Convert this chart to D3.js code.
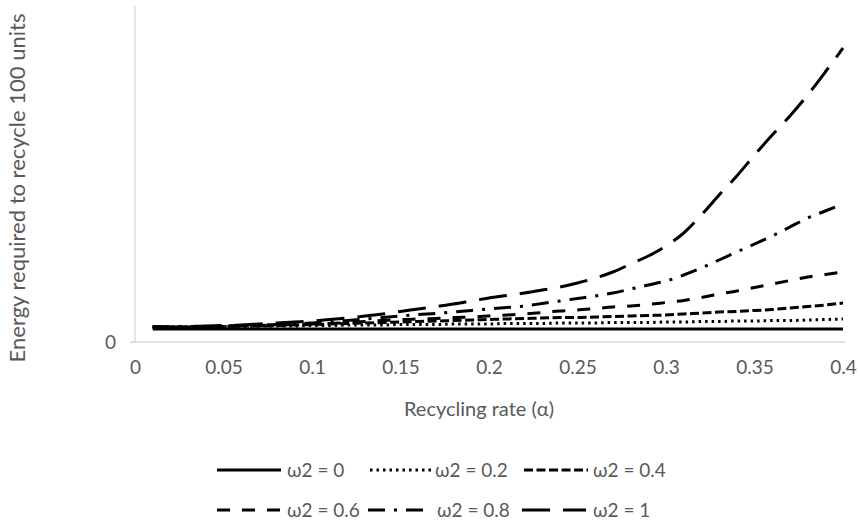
<!DOCTYPE html>
<html><head><meta charset="utf-8">
<script src="https://cdn.jsdelivr.net/npm/d3@7"></script>
<style>body{margin:0;background:#fff}svg{display:block}text{font-family:Lato,"Open Sans",sans-serif;fill:#595959}</style>
</head><body><svg id="c" width="860" height="529"></svg>
<script>
const alpha = [0.01,0.02,0.03,0.04,0.05,0.06,0.07,0.08,0.09,0.10,0.11,0.12,0.13,0.14,0.15,0.16,0.17,0.18,0.19,0.20,
  0.21,0.22,0.23,0.24,0.25,0.26,0.27,0.28,0.29,0.30,0.31,0.32,0.33,0.34,0.35,0.36,0.37,0.38,0.39,0.40];
const w0   = [13,13,13,13,13,13,13,13,13,13,13,13,13,13,13,13,13,13,13,13,13,13,13,13,13,13,13,13,13,13,13,13,13,13,13,13,13,13,13,13];
const w02  = [15,15,15,15.5,15.5,15.5,16,16,16,16.5,16.5,17,17,17,17.5,17.5,17.5,18,18,18,
  18.5,18.5,18.5,19,19,19,19.5,19.5,19.5,20,20,20.5,20.5,21,21,21.5,21.5,22,22.5,23];
const w04  = [15,15,15,15.5,15.5,16,16,16.5,17,17.5,18,18.5,19,19.5,20,20.5,21,21.5,22,22.5,
  23,23.5,24,24.5,24.5,25,25.5,26,26.5,27,28,29,30,30.5,31.5,32.5,34,35.5,37,39];
const w06  = [15,15,15,15.5,15.5,16,16.5,17,17.5,18,18.5,19.5,20.5,21.5,22.5,23,23.5,24.5,25,26,
  27,28,29.5,31,32,33.5,35,36,37.5,39.5,41.5,44.5,48,51,54.5,58,61.5,65,67.5,70];
const w08  = [15,15,15.5,15.5,16,16.5,17,17.5,18.5,19,20,21.5,23,24.5,26,27.5,28.5,30,31.5,33,
  34.5,36,38.5,41,43.5,46,49,53,57,61,67,74,82,90,98,106,115,124,131,138];
const w1   = [15,15,15.5,16,16.5,17,18,19,20,21,22.5,24,26,28,30.5,33,35.5,38,41,44,
  46.5,49,52,55,59,64,70,78,86,96,109,127,147,166,187,207,226,247,270,294];
const seriesNames = ["ω2 = 0","ω2 = 0.2","ω2 = 0.4","ω2 = 0.6","ω2 = 0.8","ω2 = 1"];
const seriesValues = [w0,w02,w04,w06,w08,w1];
const xTicks = [0,0.05,0.1,0.15,0.2,0.25,0.3,0.35,0.4];
const yTicks = [0];
const yMax = 337;

const dashes = [null,"2.5,4","9,3.5","13,12","17,9,3,9","28,13"];
const widths = [3.2,3,3,3,3,3];

const svg = d3.select("#c");
const x = d3.scaleLinear().domain([0,0.4]).range([135,843]);
const y = d3.scaleLinear().domain([0,yMax]).range([342,5]);

// axes
const xa = svg.append("g").attr("transform","translate(0,342)")
  .call(d3.axisBottom(x).tickValues(xTicks).tickSize(0).tickPadding(19).tickFormat(d=>d3.format("")(d)));
xa.select(".domain").attr("stroke","#d9d9d9").attr("stroke-width",1.3).attr("d","M130,0H845");
xa.selectAll("text").attr("font-size",19).attr("fill","#595959");
const ya = svg.append("g").attr("transform","translate(135,0)")
  .call(d3.axisLeft(y).tickValues(yTicks).tickSize(5).tickPadding(14));
ya.select(".domain").attr("stroke","#d9d9d9").attr("stroke-width",1.3).attr("d","M0,5V342");
ya.selectAll(".tick line").attr("stroke","#d9d9d9");
ya.selectAll("text").attr("font-size",19).attr("fill","#595959");

// lines
const line = d3.line().x((d,i)=>x(alpha[i])).y(d=>y(d)).curve(d3.curveMonotoneX);
seriesValues.forEach((vals,k)=>{
  svg.append("path").datum(vals).attr("d",line).attr("fill","none")
    .attr("stroke","#000").attr("stroke-width",widths[k])
    .attr("stroke-dasharray",dashes[k]);
});

// titles
svg.append("text").attr("x",479).attr("y",416).attr("text-anchor","middle").attr("font-size",20)
  .text("Recycling rate (α)");
svg.append("text").attr("transform","translate(25,188) rotate(-90)").attr("text-anchor","middle")
  .attr("font-size",22).text("Energy required to recycle 100 units");

// legend
const legSample = [[217,470],[370,470],[524,470],[217,510],[368,510],[522,510]];
const legTextX = [287,435,593,287,437,593];
seriesNames.forEach((n,k)=>{
  const [lx,ly] = legSample[k];
  const g = svg.append("g");
  g.append("line").attr("x1",lx).attr("x2",lx+64).attr("y1",ly).attr("y2",ly)
    .attr("stroke","#000").attr("stroke-width",widths[k]).attr("stroke-dasharray",dashes[k]);
  g.append("text").attr("x",legTextX[k]).attr("y",ly+7).attr("font-size",19).text(n);
});
</script></body></html>
